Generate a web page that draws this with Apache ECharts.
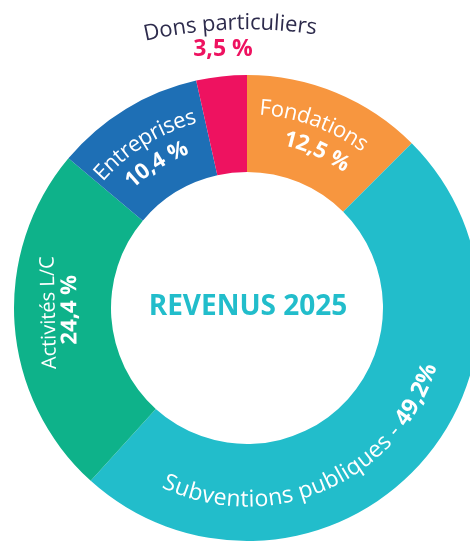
<!DOCTYPE html>
<html>
<head>
<meta charset="utf-8">
<script src="https://cdn.jsdelivr.net/npm/echarts@6/dist/echarts.min.js"></script>
<style>
html, body { margin: 0; padding: 0; background: #fff; }
#main { width: 470px; height: 545px; }
</style>
</head>
<body>
<div id="main"></div>
<script>
// revenue shares (%) in clockwise order from 12 o'clock
var names = ['Fondations', 'Subventions publiques', 'Activités L/C', 'Entreprises', 'Dons particuliers'];
var values = [12.5, 49.2, 24.4, 10.4, 3.5];
var colors = ['#F7963F', '#22BDCB', '#0EB28A', '#1E6FB5', '#EE1260'];
var title = 'REVENUS 2025';

var cx = 247, cy = 308;
var FAMILY = '"Open Sans", sans-serif';
var nameFont = '22px ' + FAMILY;
var valueFont = 'bold 22px ' + FAMILY;

var ctx = document.createElement('canvas').getContext('2d');
function tw(s, font) { ctx.font = font; return ctx.measureText(s).width; }
function pct(v) { return String(v).replace('.', ','); }
function rad(d) { return d * Math.PI / 180; }

// slice middle angles, degrees clockwise from top
var sum = values.reduce(function (a, b) { return a + b; }, 0);
var mids = [];
var run = 0;
values.forEach(function (v) { mids.push((run + v / 2) / sum * 360); run += v; });

// text bent along a circle; inward = letters' tops towards centre (bottom half)
function arcText(parts, ox, oy, r, deg, fill, inward) {
    var chars = [], total = 0;
    parts.forEach(function (p) {
        for (var i = 0; i < p.text.length; i++) {
            var a = tw(p.text.slice(0, i), p.font), b = tw(p.text.slice(0, i + 1), p.font);
            chars.push({ ch: p.text[i], c: total + (a + b) / 2, font: p.font });
        }
        total += tw(p.text, p.font);
    });
    var dir = inward ? -1 : 1;
    var start = rad(deg) - dir * total / r / 2;
    return chars.map(function (c) {
        var t = start + dir * c.c / r;
        return {
            type: 'text', z: 100,
            x: ox + r * Math.sin(t),
            y: oy - r * Math.cos(t),
            rotation: inward ? Math.PI - t : -t,
            style: { text: c.ch, font: c.font, fill: fill, align: 'center', verticalAlign: 'middle' }
        };
    });
}

function straightText(text, font, r, deg, fill, rot) {
    var t = rad(deg);
    return {
        type: 'text', z: 100,
        x: cx + r * Math.sin(t),
        y: cy - r * Math.cos(t),
        rotation: rot === undefined ? -t : rot,
        style: { text: text, font: font, fill: fill, align: 'center', verticalAlign: 'middle' }
    };
}

var g = [];
// Fondations
g = g.concat(arcText([{ text: names[0], font: nameFont }], cx, cy, 200, mids[0] - 2.5, '#fff'));
g = g.concat(arcText([{ text: pct(values[0]) + ' %', font: valueFont }], cx, cy, 173, mids[0] + 1.5, '#fff'));
// Subventions publiques
g = g.concat(arcText([
    { text: names[1] + ' - ', font: '23px ' + FAMILY },
    { text: pct(values[1]) + '%', font: 'bold 23px ' + FAMILY }
], cx, cy, 192, mids[1] + 22.8, '#fff', true));
// Activités L/C
g.push(straightText(names[2], '20px ' + FAMILY, 198, mids[2] + 2.6, '#fff'));
g.push(straightText(pct(values[2]) + ' %', valueFont, 177, mids[2] + 3.4, '#fff'));
// Entreprises
g = g.concat(arcText([{ text: names[3], font: nameFont }], cx, cy, 198, mids[3] - 0.6, '#fff'));
g = g.concat(arcText([{ text: pct(values[3]) + ' %', font: valueFont }], cx, cy, 171, mids[3] - 0.8, '#fff'));
// Dons particuliers (outside, above the ring)
g = g.concat(arcText([{ text: names[4], font: nameFont }], cx, cy + 179, 464, -2.1, '#2D2B4C'));
g.push(straightText(pct(values[4]) + ' %', 'bold 23px ' + FAMILY, 260, mids[4] + 1, colors[4], 0));
// centre title
g.push({
    type: 'text', z: 100, x: cx + 1, y: 307,
    style: { text: title, font: 'bold 28px ' + FAMILY, fill: '#22BDCB', align: 'center', verticalAlign: 'middle' }
});

var myChart = echarts.init(document.getElementById('main'));
var option = {
    animation: false,
    color: colors,
    series: [
        {
            type: 'pie',
            center: [cx, cy],
            radius: [136, 233],
            startAngle: 90,
            clockwise: true,
            silent: true,
            z: 1,
            label: { show: false },
            labelLine: { show: false },
            itemStyle: { borderWidth: 0 },
            data: names.map(function (n, i) { return { name: n, value: values[i] }; })
        }
    ],
    graphic: { elements: g }
};
myChart.setOption(option);
</script>
</body>
</html>
